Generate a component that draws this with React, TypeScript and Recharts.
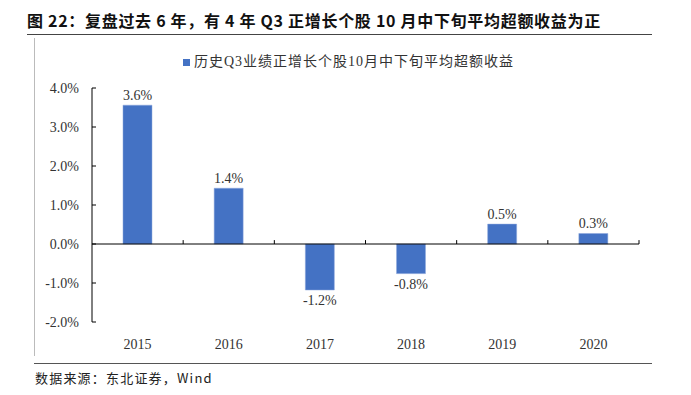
import React from 'react';
import {
  BarChart,
  Bar,
  XAxis,
  YAxis,
  ReferenceLine,
  LabelList,
} from 'recharts';

// years and average excess return (%)
const years = ['2015', '2016', '2017', '2018', '2019', '2020'];
const excessReturn = [3.56, 1.43, -1.18, -0.76, 0.51, 0.27];
const yTicks = [-2, -1, 0, 1, 2, 3, 4];

const title = '图 22：复盘过去 6 年，有 4 年 Q3 正增长个股 10 月中下旬平均超额收益为正';
const legendLabel = '历史Q3业绩正增长个股10月中下旬平均超额收益';
const source = '数据来源：东北证券，Wind';

const data = years.map((year, i) => ({ year, value: excessReturn[i] }));

const serif = '"Liberation Serif", "Noto Sans CJK SC", serif';
const barColor = '#4472C4';

const fmtPct = (v: number) => `${Number(v).toFixed(1)}%`;

export default function App() {
  return (
    <div style={{ position: 'absolute', left: 0, top: 0, width: 691, height: 395, background: '#fff', overflow: 'hidden' }}>
      {/* title */}
      <div
        style={{
          position: 'absolute',
          left: 27,
          top: 9,
          fontFamily: '"Noto Sans CJK SC", sans-serif',
          fontWeight: 700,
          fontSize: 16,
          letterSpacing: 0.7,
          color: '#111',
          whiteSpace: 'nowrap',
          lineHeight: '22px',
        }}
      >
        {title}
      </div>
      <div style={{ position: 'absolute', left: 27, top: 34, width: 625, height: 1, background: '#444' }} />

      {/* frame */}
      <div style={{ position: 'absolute', left: 34, top: 38, width: 1, height: 318, background: '#bbb' }} />
      <div style={{ position: 'absolute', left: 34, top: 363, width: 618, height: 1, background: '#555' }} />

      {/* legend */}
      <div style={{ position: 'absolute', left: 183, top: 53, display: 'flex', alignItems: 'center', whiteSpace: 'nowrap' }}>
        <span style={{ display: 'inline-block', width: 7, height: 7, background: barColor, marginRight: 4 }} />
        <span style={{ fontFamily: serif, fontSize: 14, letterSpacing: 1, color: '#333', lineHeight: '18px' }}>
          {legendLabel}
        </span>
      </div>

      {/* source */}
      <div
        style={{
          position: 'absolute',
          left: 35,
          top: 369,
          fontFamily: '"Noto Sans CJK SC", sans-serif',
          fontSize: 13,
          letterSpacing: 1.2,
          color: '#222',
          whiteSpace: 'nowrap',
          lineHeight: '18px',
        }}
      >
        {source}
      </div>

      <div style={{ position: 'absolute', left: 0, top: 0 }}>
        <BarChart
          width={691}
          height={395}
          data={data}
          margin={{ top: 88, right: 52, left: 32, bottom: 43 }}
          barCategoryGap="34%"
        >
          <XAxis
            dataKey="year"
            height={30}
            axisLine={false}
            tickLine={false}
            tickMargin={11}
            tick={{ fill: '#333', fontSize: 14, fontFamily: serif }}
          />
          <YAxis
            width={60}
            domain={[-2, 4]}
            ticks={yTicks}
            interval={0}
            tickFormatter={fmtPct}
            axisLine={{ stroke: '#000' }}
            tickLine={{ stroke: '#000' }}
            tickSize={-4}
            tickMargin={17}
            tick={{ fill: '#333', fontSize: 14, fontFamily: serif }}
          />
          <ReferenceLine y={0} stroke="#000" strokeWidth={1} />
          {years.slice(1).map((y) => (
            <ReferenceLine
              key={`tick-${y}`}
              position="start"
              segment={[{ x: y, y: 0 }, { x: y, y: 0.1 }]}
              stroke="#000"
            />
          ))}
          <ReferenceLine
            position="end"
            segment={[{ x: years[years.length - 1], y: 0 }, { x: years[years.length - 1], y: 0.1 }]}
            stroke="#000"
          />
          <Bar dataKey="value" fill={barColor} stroke="#8fa9dc" strokeWidth={0.5} isAnimationActive={false}>
            <LabelList
              dataKey="value"
              position="top"
              offset={5}
              formatter={fmtPct}
              style={{ fill: '#333', fontSize: 14, fontFamily: serif }}
            />
          </Bar>
        </BarChart>
      </div>
    </div>
  );
}
